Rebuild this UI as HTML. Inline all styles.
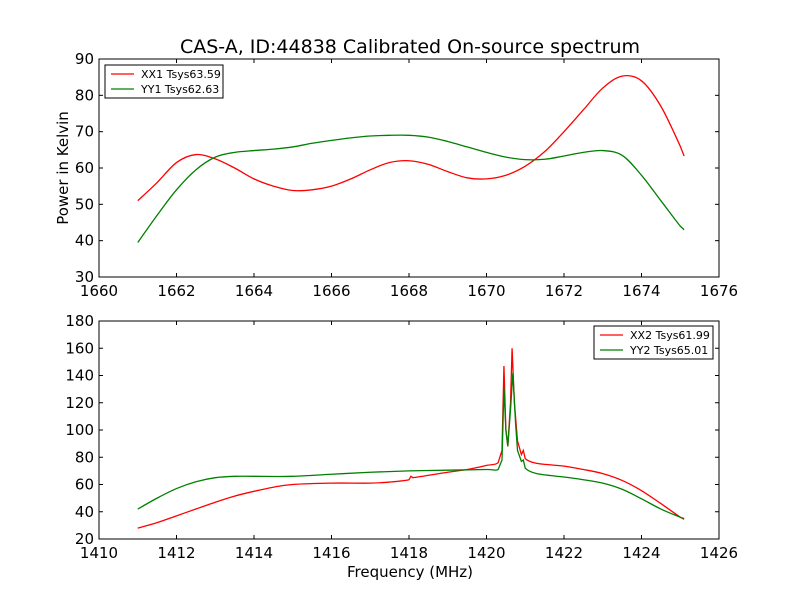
<!DOCTYPE html>
<html><head><meta charset="utf-8"><style>
body{margin:0;background:#fff;font-family:"Liberation Sans","DejaVu Sans",sans-serif}
svg text{font-family:"DejaVu Sans","Liberation Sans",sans-serif}
</style></head><body>
<svg id="c" width="800" height="600" xmlns="http://www.w3.org/2000/svg">
<rect width="800" height="600" fill="#fff"/>
<text x="410" y="53" font-size="19" text-anchor="middle">CAS-A, ID:44838 Calibrated On-source spectrum</text>
</svg>
<script>
const topFreq=[1661,1661.5,1662,1662.5,1663,1663.5,1664,1664.5,1665,1665.5,1666,1666.5,1667,1667.5,1668,1668.5,1669,1669.5,1670,1670.5,1671,1671.5,1672,1672.5,1673,1673.5,1674,1674.5,1675,1675.1];
const xx1=[51,56,61.5,63.7,62.5,60,57,55,53.8,54,55,57,59.5,61.5,62,61,59,57.3,57,58,60.5,64.5,70,76,82,85.3,84,77,66,63.3];
const yy1=[39.5,47,54,59.5,63,64.3,64.8,65.2,65.8,66.8,67.6,68.3,68.8,69,69,68.5,67.3,65.8,64.3,63,62.3,62.4,63.3,64.3,64.8,63.5,58,51,44,43];
const botFreqX=[1411,1411.5,1412,1412.5,1413,1413.5,1414,1414.5,1415,1416,1417,1417.5,1418,1418.05,1418.1,1419,1419.5,1420,1420.3,1420.4,1420.45,1420.5,1420.55,1420.62,1420.66,1420.72,1420.8,1420.9,1420.95,1421,1421.3,1422,1422.5,1423,1423.5,1424,1424.5,1425,1425.1];
const xx2=[28,32,37,42,47,51.5,55,58,60,61,61,61.8,63.5,66,65,69,71,74,76,85,147,100,88,120,160,120,92,82,85,79,75.5,73.5,71,68,63,55.5,46,36,34.5];
const botFreqY=[1411,1411.5,1412,1412.5,1413,1413.5,1414,1415,1416,1417,1418,1419,1420,1420.3,1420.4,1420.45,1420.5,1420.55,1420.62,1420.68,1420.75,1420.8,1420.9,1420.95,1421,1421.3,1422,1422.5,1423,1423.5,1424,1424.5,1425,1425.1];
const yy2=[42,50,57,62,65,66,66,66,67.5,69,70,70.5,71,71,78,131,100,88,115,142,105,85,77,78,72,68,65.5,63.5,61,56.5,49.5,42,36,35];
const topXTicks=[1660,1662,1664,1666,1668,1670,1672,1674,1676];
const topYTicks=[30,40,50,60,70,80,90];
const botXTicks=[1410,1412,1414,1416,1418,1420,1422,1424,1426];
const botYTicks=[20,40,60,80,100,120,140,160,180];

const svg=document.getElementById('c');
const NS='http://www.w3.org/2000/svg';
function mk(t,a){const e=document.createElementNS(NS,t);for(const k in a)e.setAttribute(k,a[k]);svg.appendChild(e);return e;}
function axes(name,x0,x1,y0,y1,xmin,xmax,ymin,ymax,xt,yt){
  const sx=v=>x0+(v-xmin)/(xmax-xmin)*(x1-x0);
  const sy=v=>y1-(v-ymin)/(ymax-ymin)*(y1-y0);
  const f=mk('rect',{x:x0,y:y0,width:x1-x0,height:y1-y0,fill:'none',stroke:'#000','stroke-width':1});
  
  
  xt.forEach(v=>{const x=sx(v);
    mk('line',{x1:x,x2:x,y1:y1,y2:y1-4,stroke:'#000'});mk('line',{x1:x,x2:x,y1:y0,y2:y0+4,stroke:'#000'});
    const t=mk('text',{x:x,y:y1+19,'font-size':15,'text-anchor':'middle'});t.textContent=v;
    
    });
  yt.forEach(v=>{const y=sy(v);
    mk('line',{x1:x0,x2:x0+4,y1:y,y2:y,stroke:'#000'});mk('line',{x1:x1,x2:x1-4,y1:y,y2:y,stroke:'#000'});
    const t=mk('text',{x:x0-5,y:y+5,'font-size':15,'text-anchor':'end'});t.textContent=v;
    
    });
  return {sx,sy};
}
function line(ax,xs,ys,col,name,smooth){
  const P=xs.map((x,i)=>[ax.sx(x),ax.sy(ys[i])]);
  let d='M'+P[0][0]+','+P[0][1];
  for(let i=0;i<P.length-1;i++){
    const p0=P[Math.max(0,i-1)],p1=P[i],p2=P[i+1],p3=P[Math.min(P.length-1,i+2)];
    const dx=p2[0]-p1[0];
    if(smooth && dx>6){
      const c1=[p1[0]+(p2[0]-p0[0])/6,p1[1]+(p2[1]-p0[1])/6];
      const c2=[p2[0]-(p3[0]-p1[0])/6,p2[1]-(p3[1]-p1[1])/6];
      d+=' C'+c1+' '+c2+' '+p2;
    } else d+=' L'+p2;
  }
  const p=mk('path',{d:d,fill:'none',stroke:col,'stroke-width':1.3});
  
  
}
function legend(name,x,y,w,labels,cols){
  const r=mk('rect',{x:x,y:y,width:w,height:33,fill:'#fff',stroke:'#000'});
  
  
  labels.forEach((l,i)=>{const yy=y+9+i*15;
    mk('line',{x1:x+6,x2:x+29,y1:yy,y2:yy,stroke:cols[i],'stroke-width':1.3});
    const t=mk('text',{x:x+36,y:yy+4,'font-size':11});t.textContent=l;
    
    });
}
const a1=axes('top-plot',99,719,59,277,1660,1676,30,90,topXTicks,topYTicks);
line(a1,topFreq,xx1,'#ff0000','series-xx1',true);
line(a1,topFreq,yy1,'#008000','series-yy1',true);
legend('top-legend',105,65,118,['XX1 Tsys63.59','YY1 Tsys62.63'],['#ff0000','#008000']);
const a2=axes('bottom-plot',99,719,321,539,1410,1426,20,180,botXTicks,botYTicks);
line(a2,botFreqX,xx2,'#ff0000','series-xx2',true);
line(a2,botFreqY,yy2,'#008000','series-yy2',true);
legend('bottom-legend',594,326,119,['XX2 Tsys61.99','YY2 Tsys65.01'],['#ff0000','#008000']);
let t=mk('text',{x:410,y:577,'font-size':15,'text-anchor':'middle'});t.textContent='Frequency (MHz)';


t=mk('text',{x:0,y:0,'font-size':15,'text-anchor':'middle',transform:'translate(68,168) rotate(-90)'});t.textContent='Power in Kelvin';


</script>
</body></html>
